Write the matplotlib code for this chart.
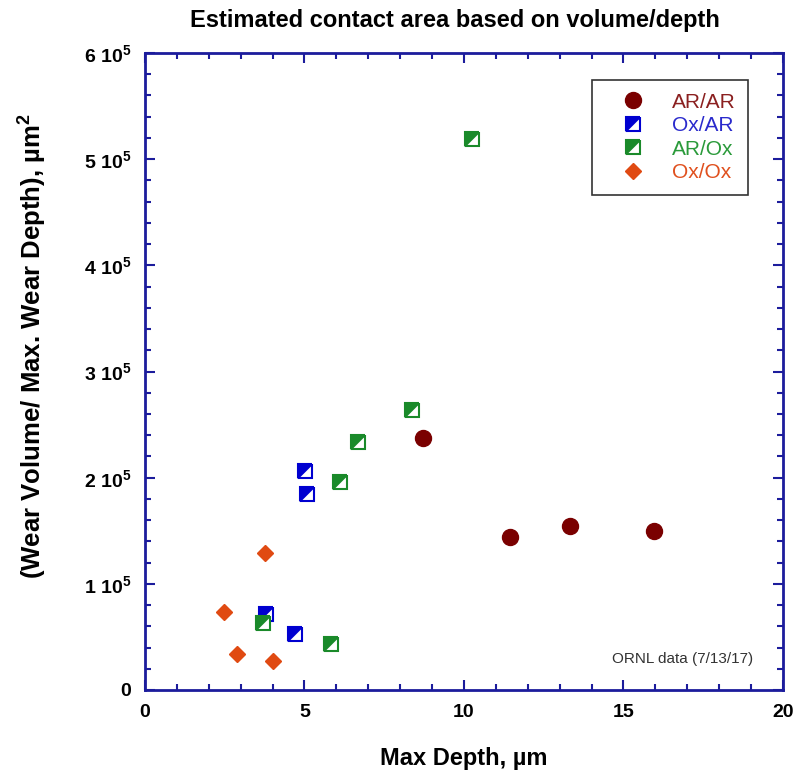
import matplotlib
matplotlib.use("Agg")
import matplotlib.pyplot as plt
from matplotlib.markers import MarkerStyle
from matplotlib.transforms import Affine2D
from matplotlib.ticker import MultipleLocator, FuncFormatter

plt.rcParams['font.family'] = ['Liberation Sans', 'DejaVu Sans']
plt.rcParams['mathtext.fontset'] = 'custom'
plt.rcParams['mathtext.rm'] = 'Liberation Sans:bold'
plt.rcParams['mathtext.bf'] = 'Liberation Sans:bold'
plt.rcParams['mathtext.it'] = 'Liberation Sans:bold'

# Max depth (µm) and wear volume / max wear depth (µm^2)
ar_ar_x = [8.72, 11.44, 13.32, 15.97]
ar_ar_y = [237000, 144000, 154000, 150000]

ox_ar_x = [5.03, 5.08, 3.80, 4.69]
ox_ar_y = [206000, 185000, 72000, 53000]

ar_ox_x = [6.12, 3.69, 5.84, 6.68, 8.36, 10.26]
ar_ox_y = [196000, 63000, 43000, 234000, 264000, 519000]

ox_ox_x = [3.75, 2.48, 2.87, 4.02]
ox_ox_y = [129000, 73000, 34000, 27000]

labels = ["AR/AR", "Ox/AR", "AR/Ox", "Ox/Ox"]
colors = ["#7a0000", "#0000d0", "#1a8a2a", "#e04a12"]
text_colors = ["#8b2020", "#2a2acc", "#2a9a3a", "#e0501e"]
axis_color = "#1c1c9c"

fig = plt.figure(figsize=(7.94, 7.73), dpi=100)
ax = fig.add_axes([0.1826, 0.1074, 0.8035, 0.824])

# square split along the diagonal, upper-left half filled
half_sq = MarkerStyle('D', fillstyle='left', transform=Affine2D().rotate_deg(-45))

ax.plot(ar_ar_x, ar_ar_y, linestyle='none', marker='o', ms=11.5,
        mfc=colors[0], mec=colors[0], label=labels[0])
ax.plot(ox_ar_x, ox_ar_y, linestyle='none', marker=half_sq, ms=10, mew=1.5,
        mfc=colors[1], mfcalt='white', mec=colors[1], label=labels[1])
ax.plot(ar_ox_x, ar_ox_y, linestyle='none', marker=half_sq, ms=10, mew=1.5,
        mfc=colors[2], mfcalt='white', mec=colors[2], label=labels[2])
ax.plot(ox_ox_x, ox_ox_y, linestyle='none', marker='D', ms=8.5,
        mfc=colors[3], mec=colors[3], label=labels[3])

ax.set_xlim(0, 20)
ax.set_ylim(0, 600000)
ax.xaxis.set_major_locator(MultipleLocator(5))
ax.xaxis.set_minor_locator(MultipleLocator(1))
ax.yaxis.set_major_locator(MultipleLocator(100000))
ax.yaxis.set_minor_locator(MultipleLocator(20000))


def yfmt(v, pos):
    n = int(round(v / 1e5))
    return "0" if n == 0 else f"{n} " + "10$^5$"


ax.yaxis.set_major_formatter(FuncFormatter(yfmt))

for s in ax.spines.values():
    s.set_color(axis_color)
    s.set_linewidth(2.0)

ax.tick_params(which='both', direction='in', top=True, right=True,
               color=axis_color, width=1.5)
ax.tick_params(which='major', length=7, pad=10, labelsize=14)
ax.tick_params(which='minor', length=4)
for t in ax.get_xticklabels() + ax.get_yticklabels():
    t.set_fontweight('bold')

ax.set_xlabel("Max Depth, µm", fontsize=17, fontweight='bold')
ax.xaxis.set_label_coords(0.5, -0.09)
ax.set_ylabel("(Wear Volume/ Max. Wear Depth), µm$^2$", fontsize=18.5,
              fontweight='bold')
ax.yaxis.set_label_coords(-0.15, 0.54)
fig.text(455 / 794, 1 - 20 / 773, "Estimated contact area based on volume/depth",
         fontsize=17, fontweight='bold', ha='center', va='center')

ax.text(0.953, 0.048, "ORNL data (7/13/17)", transform=ax.transAxes,
        ha='right', va='center', fontsize=11, color='#333333')

leg = ax.legend(loc='upper right', bbox_to_anchor=(0.945, 0.9576),
                fontsize=15, frameon=True, fancybox=False, edgecolor='black',
                handlelength=2.7, handletextpad=0.5, borderpad=0.6,
                labelspacing=0.22, borderaxespad=0.0, numpoints=1)
leg.get_frame().set_linewidth(1.2)
for txt, c in zip(leg.get_texts(), text_colors):
    txt.set_color(c)

fig.savefig("out.png", dpi=100)
